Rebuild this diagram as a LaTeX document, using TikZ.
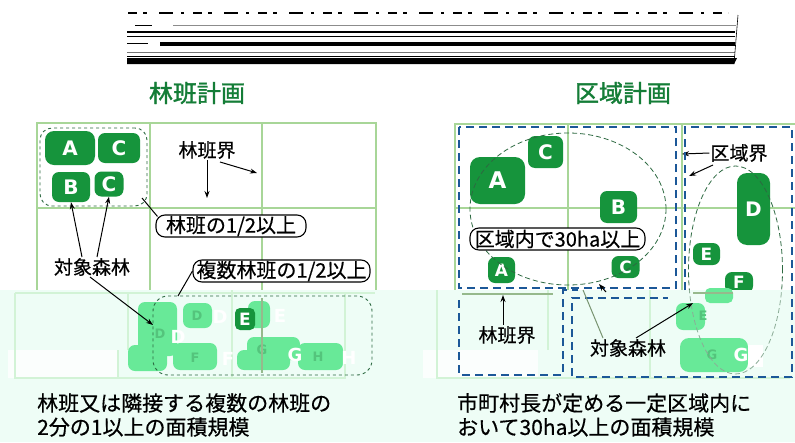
\documentclass[tikz,border=0pt]{standalone}
\usepackage{fontspec}
\setmainfont{Noto Sans CJK JP}[FakeBold=0.5]
\newfontfamily\jpb{Noto Sans CJK JP}[FakeBold=1.5]
\newfontfamily\lat{DejaVu Sans}
\usetikzlibrary{arrows.meta}
\definecolor{dkg}{RGB}{22,148,60}
\definecolor{ttlgreen}{RGB}{20,125,55}
\definecolor{gridg}{RGB}{168,214,152}
\definecolor{blu}{RGB}{28,88,152}
\definecolor{dashg}{RGB}{45,105,65}
\definecolor{tint}{RGB}{238,253,246}
\definecolor{faint}{RGB}{210,243,214}
\definecolor{lgb}{RGB}{104,233,152}
\definecolor{ghost}{RGB}{84,196,124}
\definecolor{gline}{RGB}{150,185,140}
\begin{document}
\begin{tikzpicture}[x=1pt,y=-1pt,
  gb/.style={fill=dkg, rounded corners=7pt, inner sep=0pt, text=white, font=\lat\bfseries\fontsize{20}{20}\selectfont},
  gbs/.style={gb, font=\lat\bfseries\fontsize{17}{17}\selectfont},
  wl/.style={text=white, inner sep=0pt, font=\lat\bfseries\fontsize{18}{18}\selectfont},
  gl/.style={text=ghost, inner sep=0pt, font=\lat\bfseries\fontsize{13}{13}\selectfont},
  lbl/.style={inner sep=1pt, font=\fontsize{19}{19}\selectfont},
  callout/.style={draw=black, fill=white, line width=1.1pt, rounded corners=9pt, inner sep=0pt, minimum height=22pt, font=\fontsize{20}{20}\selectfont},
  grp/.style={draw=dashg, dashed, line width=0.9pt, rounded corners=12pt, inner sep=0pt},
  bd/.style={draw=blu, line width=2.6pt, dash pattern=on 8pt off 5pt},
  arr/.style={draw=black, line width=1pt, -{Stealth[length=7pt,width=5pt]}},
  conn/.style={draw=black, line width=1pt},
  gridl/.style={draw=gridg, line width=2.6pt},
  faintl/.style={draw=faint, line width=2pt},
  ell/.style={draw=dashg, line width=0.8pt, dash pattern=on 5pt off 3pt},
  titlestyle/.style={text=ttlgreen, inner sep=0pt, font=\jpb\fontsize{24}{24}\selectfont},
  btxt/.style={anchor=west, inner sep=0pt, font=\fontsize{21}{21}\selectfont}
]
\useasboundingbox (0,0) rectangle (795,442);
\fill[white] (0,0) rectangle (795,442);

% garbled top band
\draw[black, line width=2.5pt, dash pattern=on 9pt off 6pt on 4pt off 12pt on 14pt off 8pt on 3pt off 9pt] (128,13) -- (728,13);
\draw[black, line width=0.8pt] (135,25) -- (152,25);
\draw[black!45, line width=0.8pt] (173,25) -- (736,25);
\fill[black] (127,31) rectangle (735,33);
\fill[black] (127,35.5) rectangle (735,36.6);
\fill[black] (127,42.5) rectangle (148,44);
\fill[black] (160,42) rectangle (735,45.5);
\draw[black!55, line width=0.6pt] (127,52) -- (735,52);
\draw[black, line width=0.7pt] (127,56) -- (735,56);
\fill[black] (127,58) -- (737,58) -- (734,64) -- (127,64) -- cycle;
\draw[black, line width=0.6pt] (738,15) -- (734,64);

% titles
\node[titlestyle] (t1) at (197,93) {林班計画};
\node[titlestyle] (t2) at (623,93) {区域計画};

% grids
\draw[gridl] (37,290) -- (37,123) -- (376,123) -- (376,290);
\draw[gridl] (150,123) -- (150,290) (262,123) -- (262,290) (37,208) -- (376,208);
\draw[gridl] (455,290) -- (455,124) -- (795,124);
\draw[gridl] (568,124) -- (568,290) (682,124) -- (682,290) (455,208) -- (795,208);

% left top boxes
\node[gb, minimum width=50pt, minimum height=34pt, rounded corners=9pt] (lA) at (70,148) {A};
\node[gb, minimum width=42pt, minimum height=30pt] (lC1) at (119,148) {C};
\node[gb, minimum width=38pt, minimum height=30pt] (lB) at (71,187) {B};
\node[gb, minimum width=29pt, minimum height=25pt] (lC2) at (109,184) {C};
\node[grp, minimum width=107pt, minimum height=78pt] (lgrp) at (93.5,167) {};

% right boxes
\node[gb, minimum width=35pt, minimum height=32pt] (rC1) at (545.5,152) {C};
\node[gb, minimum width=55pt, minimum height=47pt, rounded corners=10pt, font=\lat\bfseries\fontsize{23}{23}\selectfont] (rA1) at (497.5,180.5) {A};
\node[gb, minimum width=37pt, minimum height=32pt] (rB) at (618.5,207) {B};
\node[gbs, minimum width=27pt, minimum height=26pt] (rA2) at (501.5,270) {A};
\node[gbs, minimum width=28pt, minimum height=22pt] (rC2) at (625.5,267) {C};
\node[gb, minimum width=33pt, minimum height=72pt, rounded corners=10pt] (rD) at (753.5,209) {D};
\node[gbs, minimum width=27pt, minimum height=22pt] (rE) at (706.5,254) {E};
\node[gbs, minimum width=28pt, minimum height=21pt] (rF) at (739,282.5) {F};

% right region borders and ellipses
\draw[bd] (459,127) rectangle (676,288);
\draw[ell] (568,209) ellipse [x radius=98pt, y radius=76pt];
\begin{scope}
\clip (0,0) rectangle (795,290);
\draw[ell] (735.5,270) ellipse [x radius=47pt, y radius=104pt];
\end{scope}

% left labels
\node[lbl] (lrh) at (207,150) {林班界};
\coordinate (lrh1) at (207,198);
\coordinate (lrh2a) at (220,162);
\coordinate (lrh2) at (257,173);
\draw[arr] (lrh.south) -- (lrh1);
\draw[arr] (lrh2a) -- (lrh2);
\node[callout, minimum width=150pt] (c1) at (231,226) {林班の1/2以上};
\coordinate (c1s) at (142,198);
\draw[conn] (c1s) -- ([shift={(2,2)}]c1.north west);
\node[callout, minimum width=177pt] (c2) at (281.5,271) {複数林班の1/2以上};
\node[lbl] (ltf) at (92,267) {対象森林};
\draw[arr] ([xshift=-10pt]ltf.north) -- (lB.south);
\draw[arr] ([xshift=5pt]ltf.north) -- (lC2.south);

% right labels
\node[lbl] (rkk) at (739,153) {区域界};
\coordinate (rkk1) at (682,154);
\coordinate (rkk2a) at (713,165);
\coordinate (rkk2) at (689,176);
\draw[arr] (rkk.west) -- (rkk1);
\draw[arr] (rkk2a) -- (rkk2);
\node[callout, minimum width=175pt] (c3) at (557.5,239) {区域内で30ha以上};

% glitched lower band
\fill[tint] (0,290) rectangle (795,442);
\fill[white, opacity=0.8] (8,350) rectangle (118,378);
\fill[white, opacity=0.8] (423,350) rectangle (538,378);
\draw[faintl] (15,293) -- (375,293) (15,293) -- (15,378) -- (345,378) -- (345,293);
\draw[faintl] (128,293) -- (128,350) (118,350) -- (118,378) (232,290) -- (232,378);
\draw[faintl] (437,290) -- (437,378) -- (790,378) (548,290) -- (548,350) (650,290) -- (650,378);

% light blobs left
\fill[lgb, rounded corners=7pt] (138,302) rectangle (177,356);
\fill[lgb, rounded corners=7pt] (128,345) rectangle (167,371);
\fill[lgb, rounded corners=7pt] (183,303) rectangle (212,328);
\fill[lgb, rounded corners=7pt] (248,301) rectangle (270,328);
\fill[lgb, rounded corners=7pt] (173,343) rectangle (217,370);
\fill[lgb, rounded corners=7pt] (247,337) rectangle (300,360);
\fill[lgb, rounded corners=7pt] (237,350) rectangle (290,370);
\fill[lgb, rounded corners=7pt] (298,343) rectangle (343,370);
\node[gl] (g1) at (160,334) {D};
\node[gl] (g2) at (197,316) {D};
\node[gl] (g3) at (195,358) {F};
\node[gl] (g4) at (262,350) {G};
\node[gl] (g5) at (318,357) {H};
\node[wl] (w1) at (178,337) {D};
\node[wl] (w2) at (220,317) {D};
\node[wl] (w3) at (280,316) {E};
\node[wl] (w4) at (228,359) {F};
\node[wl] (w5) at (295,355) {G};
\node[wl] (w6) at (349,358) {H};
\node[gbs, minimum width=20pt, minimum height=22pt, rounded corners=5pt] (lE) at (245,319) {E};
\draw[gline, line width=2.5pt] (262,298) -- (262,373);
\node[grp, minimum width=219pt, minimum height=79pt, rounded corners=15pt] (lgrp2) at (262.5,335.5) {};

% light blobs right
\fill[lgb, rounded corners=5pt] (705,288) rectangle (733,303);
\fill[lgb, rounded corners=7pt] (676,303) rectangle (705,330);
\fill[lgb, rounded corners=9pt] (680,338) rectangle (748,372);
\node[gl] (g6) at (703,316) {E};
\node[gl] (g7) at (712,355) {G};
\node[wl] (w7) at (741,355) {G};
\fill[white] (748,345) rectangle (763,367);
\draw[gline, line width=2.5pt] (462,294) -- (553,294);
\draw[gline, line width=2.5pt] (693,293) -- (733,293);
\begin{scope}
\clip (0,290) rectangle (795,442);
\draw[ell, draw=dashg!55] (735.5,270) ellipse [x radius=47pt, y radius=104pt];
\end{scope}

% lower region borders
\draw[bd] (685,290) -- (685,127) -- (792,127) -- (792,377) -- (572,377) -- (572,298) -- (668,298);
\draw[bd] (459,300) -- (459,375) -- (563,375) -- (563,290) -- (578,290);

% connectors crossing the band
\coordinate (c2e) at (178,296);
\draw[conn] (c2.west) -- (c2e);
\coordinate (ltfe) at (153,325);
\draw[arr] ([xshift=-2pt]ltf.south) -- (ltfe);
\node[lbl] (rrh) at (507,335) {林班界};
\coordinate (rrh1) at (503,295);
\draw[arr] ([xshift=-4pt]rrh.north) -- (rrh1);
\node[lbl] (rtf) at (628,348) {対象森林};
\coordinate (rtf1) at (693,303);
\coordinate (rtf2) at (583,290);
\coordinate (rtf3a) at (606,292);
\coordinate (rtf3) at (599,284);
\draw[arr] ([xshift=8pt]rtf.north) -- (rtf1);
\draw[draw=gline!80!black, line width=1pt] ([xshift=-25pt]rtf.north) -- (rtf2);
\draw[arr] (rtf3a) -- (rtf3);

% bottom texts
\node[btxt] (bl1) at (37,403) {林班又は隣接する複数の林班の};
\node[btxt] (bl2) at (37,427) {2分の1以上の面積規模};
\node[btxt] (br1) at (457,403) {市町村長が定める一定区域内に};
\node[btxt] (br2) at (457,427) {おいて30ha以上の面積規模};
\end{tikzpicture}
\end{document}
